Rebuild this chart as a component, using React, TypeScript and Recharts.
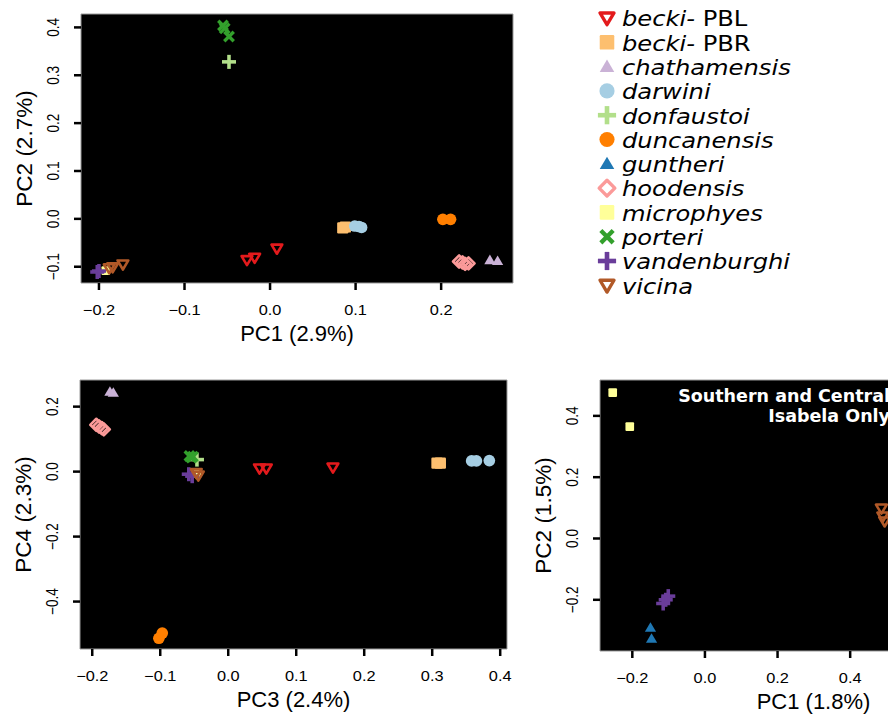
import React from 'react';
import { ScatterChart, Scatter, XAxis, YAxis, CartesianGrid, ReferenceArea, Label } from 'recharts';

type Pt = [number, number];

// species, in legend order
const speciesNames = ['becki- PBL', 'becki- PBR', 'chathamensis', 'darwini', 'donfaustoi', 'duncanensis',
  'guntheri', 'hoodensis', 'microphyes', 'porteri', 'vandenburghi', 'vicina'];
const speciesColors = ['#e31a1c', '#fdbf6f', '#cab2d6', '#a6cee3', '#b2df8a', '#ff7f00',
  '#1f78b4', '#fb9a99', '#ffff99', '#33a02c', '#6a3d9a', '#b15928'];
const speciesMarks = ['tdown', 'square', 'tup', 'circle', 'plus', 'circle',
  'tup', 'diamond', 'smallsquare', 'cross', 'plus', 'tdown'];

// panel A: PC1 vs PC2 (all islands)
const aBeckiPBL: Pt[] = [[-0.027, -0.086], [-0.018, -0.081], [0.008, -0.062]];
const aBeckiPBR: Pt[] = [[0.085, -0.019], [0.088, -0.017]];
const aChathamensis: Pt[] = [[0.257, -0.086], [0.266, -0.088]];
const aDarwini: Pt[] = [[0.099, -0.015], [0.104, -0.016], [0.107, -0.018]];
const aDonfaustoi: Pt[] = [[-0.048, 0.328]];
const aDuncanensis: Pt[] = [[0.202, -0.001], [0.211, -0.001]];
const aGuntheri: Pt[] = [];
const aHoodensis: Pt[] = [[0.221, -0.089], [0.225, -0.091], [0.228, -0.094], [0.232, -0.093]];
const aMicrophyes: Pt[] = [[-0.192, -0.108]];
const aPorteri: Pt[] = [[-0.055, 0.404], [-0.053, 0.398], [-0.048, 0.381]];
const aVandenburghi: Pt[] = [[-0.202, -0.111], [-0.2, -0.109]];
const aVicina: Pt[] = [[-0.188, -0.103], [-0.184, -0.101], [-0.172, -0.095]];

// panel B: PC3 vs PC4
const bBeckiPBL: Pt[] = [[0.046, 0.01], [0.056, 0.01], [0.154, 0.013]];
const bBeckiPBR: Pt[] = [[0.307, 0.026], [0.312, 0.026]];
const bChathamensis: Pt[] = [[-0.174, 0.246], [-0.169, 0.243]];
const bDarwini: Pt[] = [[0.358, 0.033], [0.365, 0.033], [0.384, 0.034]];
const bDonfaustoi: Pt[] = [[-0.046, 0.037]];
const bDuncanensis: Pt[] = [[-0.097, -0.497], [-0.102, -0.513]];
const bGuntheri: Pt[] = [];
const bHoodensis: Pt[] = [[-0.194, 0.144], [-0.19, 0.139], [-0.186, 0.134], [-0.183, 0.13]];
const bMicrophyes: Pt[] = [[-0.046, -0.006]];
const bPorteri: Pt[] = [[-0.057, 0.048], [-0.052, 0.046], [-0.054, 0.043]];
const bVandenburghi: Pt[] = [[-0.058, -0.008], [-0.053, -0.014]];
const bVicina: Pt[] = [[-0.044, -0.012], [-0.047, -0.004]];

// panel C: PC1 vs PC2, Southern and Central Isabela only
const cGuntheri: Pt[] = [[-0.15, -0.291], [-0.147, -0.327]];
const cMicrophyes: Pt[] = [[-0.254, 0.476], [-0.207, 0.365]];
const cVandenburghi: Pt[] = [[-0.101, -0.188], [-0.108, -0.2], [-0.115, -0.212]];
const cVicina: Pt[] = [[0.486, 0.098], [0.49, 0.072], [0.495, 0.056]];

const panelA = [aBeckiPBL, aBeckiPBR, aChathamensis, aDarwini, aDonfaustoi, aDuncanensis,
  aGuntheri, aHoodensis, aMicrophyes, aPorteri, aVandenburghi, aVicina];
const panelB = [bBeckiPBL, bBeckiPBR, bChathamensis, bDarwini, bDonfaustoi, bDuncanensis,
  bGuntheri, bHoodensis, bMicrophyes, bPorteri, bVandenburghi, bVicina];
const panelC = [[], [], [], [], [], [], cGuntheri, [], cMicrophyes, [], cVandenburghi, cVicina] as Pt[][];

const aXTicks = [-0.2, -0.1, 0, 0.1, 0.2];
const aYTicks = [-0.1, 0, 0.1, 0.2, 0.3, 0.4];
const bXTicks = [-0.2, -0.1, 0, 0.1, 0.2, 0.3, 0.4];
const bYTicks = [-0.4, -0.2, 0, 0.2];
const cXTicks = [-0.2, 0, 0.2, 0.4, 0.6, 0.8];
const cYTicks = [-0.2, 0, 0.2, 0.4];

const sans = '"Liberation Sans", Arial, Helvetica, sans-serif';
const dejavu = '"DejaVu Sans", Verdana, sans-serif';

const fmt = (v: number) => (v < 0 ? '\u2212' : '') + Math.abs(v).toFixed(1);

function Mark({ kind, cx, cy, color, s = 1 }: { kind: string; cx: number; cy: number; color: string; s?: number }) {
  const sw = 2.4 * s;
  switch (kind) {
    case 'tdown':
      return <path d={`M${cx - 5 * s},${cy - 3.6 * s}L${cx + 5 * s},${cy - 3.6 * s}L${cx},${cy + 4.8 * s}Z`}
        fill="none" stroke={color} strokeWidth={sw} strokeLinejoin="round" />;
    case 'tup':
      return <path d={`M${cx},${cy - 5 * s}L${cx + 5.2 * s},${cy + 3.8 * s}L${cx - 5.2 * s},${cy + 3.8 * s}Z`} fill={color} />;
    case 'square':
      return <rect x={cx - 5.2 * s} y={cy - 5.2 * s} width={10.4 * s} height={10.4 * s} rx={1.2} fill={color} />;
    case 'smallsquare':
      return <rect x={cx - 4 * s} y={cy - 4 * s} width={8 * s} height={8 * s} rx={1} fill={color} />;
    case 'circle':
      return <circle cx={cx} cy={cy} r={5.4 * s} fill={color} />;
    case 'plus':
      return (
        <g stroke={color} strokeWidth={3.3 * s}>
          <line x1={cx - 6.5 * s} y1={cy} x2={cx + 6.5 * s} y2={cy} />
          <line x1={cx} y1={cy - 6.5 * s} x2={cx} y2={cy + 6.5 * s} />
        </g>
      );
    case 'cross':
      return (
        <g stroke={color} strokeWidth={3.1 * s}>
          <line x1={cx - 4.4 * s} y1={cy - 4.4 * s} x2={cx + 4.4 * s} y2={cy + 4.4 * s} />
          <line x1={cx - 4.4 * s} y1={cy + 4.4 * s} x2={cx + 4.4 * s} y2={cy - 4.4 * s} />
        </g>
      );
    case 'diamond':
      return <path d={`M${cx},${cy - 5.6 * s}L${cx + 5.6 * s},${cy}L${cx},${cy + 5.6 * s}L${cx - 5.6 * s},${cy}Z`}
        fill="none" stroke={color} strokeWidth={sw} strokeLinejoin="round" />;
    default:
      return null;
  }
}

// the original figure is a little wider than tall, so the labels are stretched sideways
const XTick = (p: any) => (
  <text transform={`translate(${p.x} ${p.y}) scale(1.15 1)`} dy="0.71em" textAnchor="middle" fontSize={14.2}
    fontFamily={sans} fill="#000">
    {fmt(p.payload.value)}
  </text>
);

const YTick = (p: any) => (
  <text transform={`translate(${p.x} ${p.y}) scale(1.2 1) rotate(-90)`} textAnchor="middle" fontSize={13.6}
    fontFamily={sans} fill="#000">
    {fmt(p.payload.value)}
  </text>
);

const xTitle = (t: string) => (p: any) => {
  const vb = p.viewBox;
  return <text x={vb.x + vb.width / 2} y={vb.y + 58} textAnchor="middle" fontSize={22} fontFamily={sans} fill="#000">{t}</text>;
};

const yTitle = (t: string) => (p: any) => {
  const vb = p.viewBox;
  const x = vb.x + vb.width - 49;
  const y = vb.y + vb.height / 2;
  return <text x={x} y={y} transform={`rotate(-90 ${x} ${y})`} textAnchor="middle" fontSize={22.5} fontFamily={sans} fill="#000">{t}</text>;
};

type PanelProps = {
  series: Pt[][];
  width: number;
  height: number;
  margin: { top: number; right: number; bottom: number; left: number };
  yWidth: number;
  xDom: [number, number];
  yDom: [number, number];
  xTicks: number[];
  yTicks: number[];
  xLab: string;
  yLab: string;
};

function Panel({ series, width, height, margin, yWidth, xDom, yDom, xTicks, yTicks, xLab, yLab }: PanelProps) {
  return (
    <ScatterChart width={width} height={height} margin={margin}>
      <CartesianGrid horizontal={false} vertical={false} fill="#000" fillOpacity={1} />
      <XAxis type="number" dataKey="x" domain={xDom} ticks={xTicks} interval={0} allowDataOverflow
        axisLine={false} tickLine={{ stroke: '#000', strokeWidth: 2.5 }} tickSize={7} tickMargin={15}
        height={40} tick={XTick}>
        <Label content={xTitle(xLab)} />
      </XAxis>
      <YAxis type="number" dataKey="y" domain={yDom} ticks={yTicks} interval={0} allowDataOverflow
        axisLine={false} tickLine={{ stroke: '#000', strokeWidth: 2.5 }} tickSize={7} tickMargin={15}
        width={yWidth} tick={YTick}>
        <Label content={yTitle(yLab)} />
      </YAxis>
      <ReferenceArea x1={xDom[0]} x2={xDom[1]} y1={yDom[0]} y2={yDom[1]} fill="none" stroke="#9a9a9a"
        strokeWidth={1} ifOverflow="visible" />
      {series.map((pts, i) => (
        <Scatter key={speciesNames[i]} name={speciesNames[i]} data={pts.map(([x, y]) => ({ x, y }))}
          isAnimationActive={false}
          shape={(p: any) => <Mark kind={speciesMarks[i]} cx={p.cx} cy={p.cy} color={speciesColors[i]} s={1.08} />} />
      ))}
    </ScatterChart>
  );
}

function SpeciesLegend() {
  return (
    <svg width={328} height={310} style={{ position: 'absolute', left: 560, top: 0 }}>
      {speciesNames.map((n, i) => {
        const cy = 18 + i * 24.3;
        const kind = speciesMarks[i] === 'smallsquare' ? 'square' : speciesMarks[i];
        const parts = n.split(' ');
        return (
          <g key={n}>
            <Mark kind={kind} cx={47} cy={cy} color={speciesColors[i]} s={1.4} />
            <text transform={`translate(62 ${cy + 8.3}) scale(1.1 1)`} fontSize={22} fontFamily={dejavu} fill="#000">
              <tspan fontStyle="italic">{parts[0]}</tspan>
              {parts.length > 1 && <tspan>{' ' + parts[1]}</tspan>}
            </text>
          </g>
        );
      })}
    </svg>
  );
}

export default function App() {
  return (
    <div style={{ position: 'absolute', left: 0, top: 0, width: 888, height: 714, overflow: 'hidden', background: '#fff' }}>
      <div style={{ position: 'absolute', left: 0, top: 0 }}>
        <Panel series={panelA} width={560} height={360} margin={{ top: 14, right: 47, bottom: 37, left: 0 }}
          yWidth={81} xDom={[-0.221, 0.284]} yDom={[-0.134, 0.428]} xTicks={aXTicks} yTicks={aYTicks}
          xLab="PC1 (2.9%)" yLab="PC2 (2.7%)" />
      </div>
      <SpeciesLegend />
      <div style={{ position: 'absolute', left: 0, top: 360 }}>
        <Panel series={panelB} width={540} height={354} margin={{ top: 20, right: 33, bottom: 25, left: 0 }}
          yWidth={80} xDom={[-0.218, 0.41]} yDom={[-0.546, 0.282]} xTicks={bXTicks} yTicks={bYTicks}
          xLab="PC3 (2.4%)" yLab="PC4 (2.3%)" />
      </div>
      <div style={{ position: 'absolute', left: 530, top: 360 }}>
        <Panel series={panelC} width={520} height={354} margin={{ top: 20, right: 23, bottom: 23, left: 0 }}
          yWidth={70} xDom={[-0.289, 0.887]} yDom={[-0.367, 0.517]} xTicks={cXTicks} yTicks={cYTicks}
          xLab="PC1 (1.8%)" yLab="PC2 (1.5%)" />
        <svg width={520} height={80} style={{ position: 'absolute', left: 0, top: 0, pointerEvents: 'none' }}>
          <text x={360} y={41.7} textAnchor="end" fontSize={17.5} fontWeight="bold" fontFamily={dejavu} fill="#fff">
            Southern and Central
          </text>
          <text x={360} y={61.7} textAnchor="end" fontSize={17.5} fontWeight="bold" fontFamily={dejavu} fill="#fff">
            Isabela Only
          </text>
        </svg>
      </div>
    </div>
  );
}
